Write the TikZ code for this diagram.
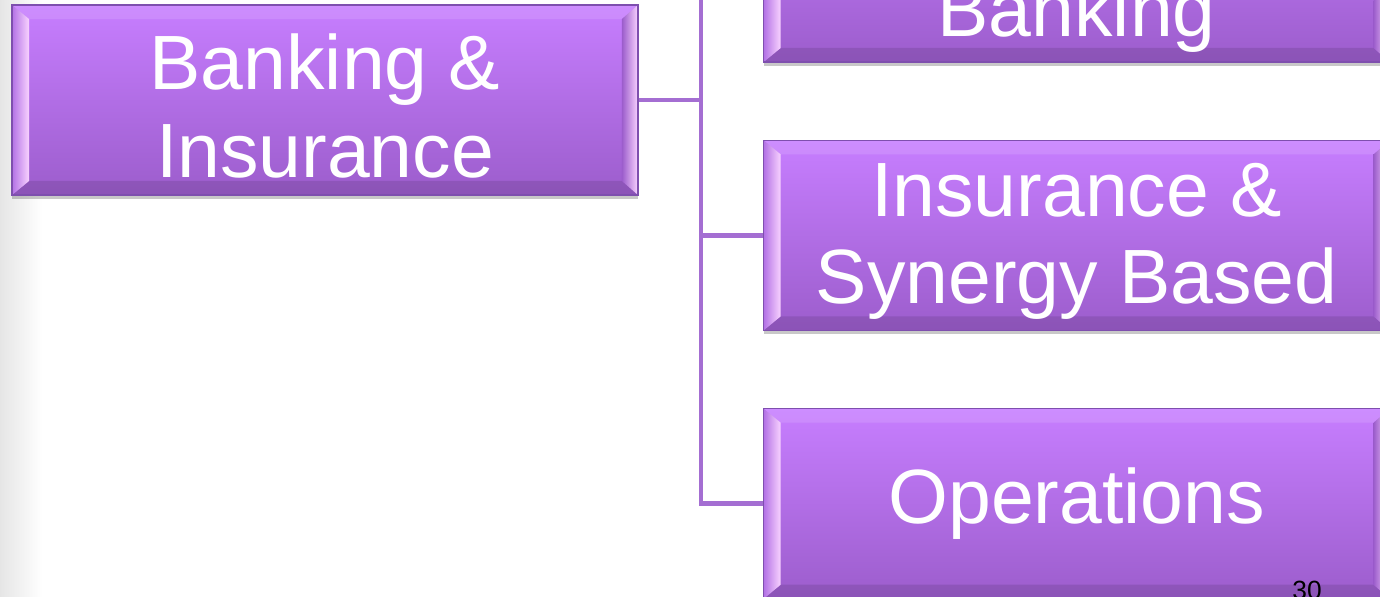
\documentclass[tikz,border=0pt]{standalone}
\usepackage{fontspec}
\setmainfont{Liberation Sans}
\usetikzlibrary{positioning,calc,shadows}

\definecolor{boxtop}{HTML}{C77EFF}
\definecolor{boxbot}{HTML}{9C5DCC}
\definecolor{boxedge}{HTML}{7E4FAE}
\definecolor{bevelpink}{HTML}{F8D2FF}
\definecolor{linkc}{HTML}{A46ED2}

\begin{document}
\begin{tikzpicture}[
  x=0.02cm, y=-0.02cm,
  node distance=1.54cm,
  unitbox/.style={draw=boxedge, line width=0.8pt, top color=boxtop, bottom color=boxbot,
    minimum width=12.52cm, minimum height=3.8cm, inner sep=0pt,
    drop shadow={shadow xshift=0pt, shadow yshift=-0.08cm, opacity=0.3, fill=black!70},
    path picture={
      \coordinate (sw) at (path picture bounding box.south west);
      \coordinate (ne) at (path picture bounding box.north east);
      \coordinate (nw) at (sw |- ne);
      \coordinate (se) at (ne |- sw);
      % top and bottom faces
      \fill[white, opacity=0.12] (nw) -- (ne) -- ($(ne)+(-0.32cm,-0.28cm)$) -- ($(nw)+(0.34cm,-0.28cm)$) -- cycle;
      \fill[black, opacity=0.10] (sw) -- (se) -- ($(se)+(-0.32cm,0.28cm)$) -- ($(sw)+(0.34cm,0.28cm)$) -- cycle;
      % side faces
      \shade[left color=boxtop!90!black, right color=bevelpink] (sw) -- (nw) -- ($(nw)+(0.34cm,-0.28cm)$) -- ($(sw)+(0.34cm,0.28cm)$) -- cycle;
      \shade[left color=boxbot, right color=bevelpink] (se) -- (ne) -- ($(ne)+(-0.32cm,-0.28cm)$) -- ($(se)+(-0.32cm,0.28cm)$) -- cycle;
    }},
  unittext/.style={text=white, align=center, inner sep=0pt, font=\fontsize{43.8}{50}\selectfont},
  link/.style={draw=linkc, line width=2.8pt}
]
\useasboundingbox (0,0) rectangle (1380,597);
\clip (0,0) rectangle (1380,597);
\fill[white] (0,0) rectangle (1380,597);
\shade[left color=black!10, right color=white] (0,0) rectangle (42,597);

\node[unitbox] (bi) at (325,100) {};
\node[unitbox, anchor=west] (bk) at (763,-33) {};
\node[unitbox, below=of bk] (isb) {};
\node[unitbox, below=of isb] (ops) {};

\node[unittext, yshift=-0.12cm] (bi-t) at (bi) {Banking \&\\Insurance};
\node[unittext, yshift=-0.12cm] (bk-t) at (bk) {\phantom{Banking}\\Banking};
\node[unittext, yshift=-0.12cm] (isb-t) at (isb) {Insurance \&\\Synergy Based};
\node[unittext] (ops-t) at (ops) {Operations};

\coordinate (tr) at (701,0);
\draw[link] (bi.east) -- (bi.east -| tr);
\draw[link] (tr |- bk.west) -- (tr |- ops.west) -- (ops.west);
\draw[link] (tr |- bk.west) -- (bk.west);
\draw[link] (tr |- isb.west) -- (isb.west);

\node[font=\fontsize{15}{18}\selectfont, anchor=base] (pg) at (1307,600) {30};
\end{tikzpicture}
\end{document}
